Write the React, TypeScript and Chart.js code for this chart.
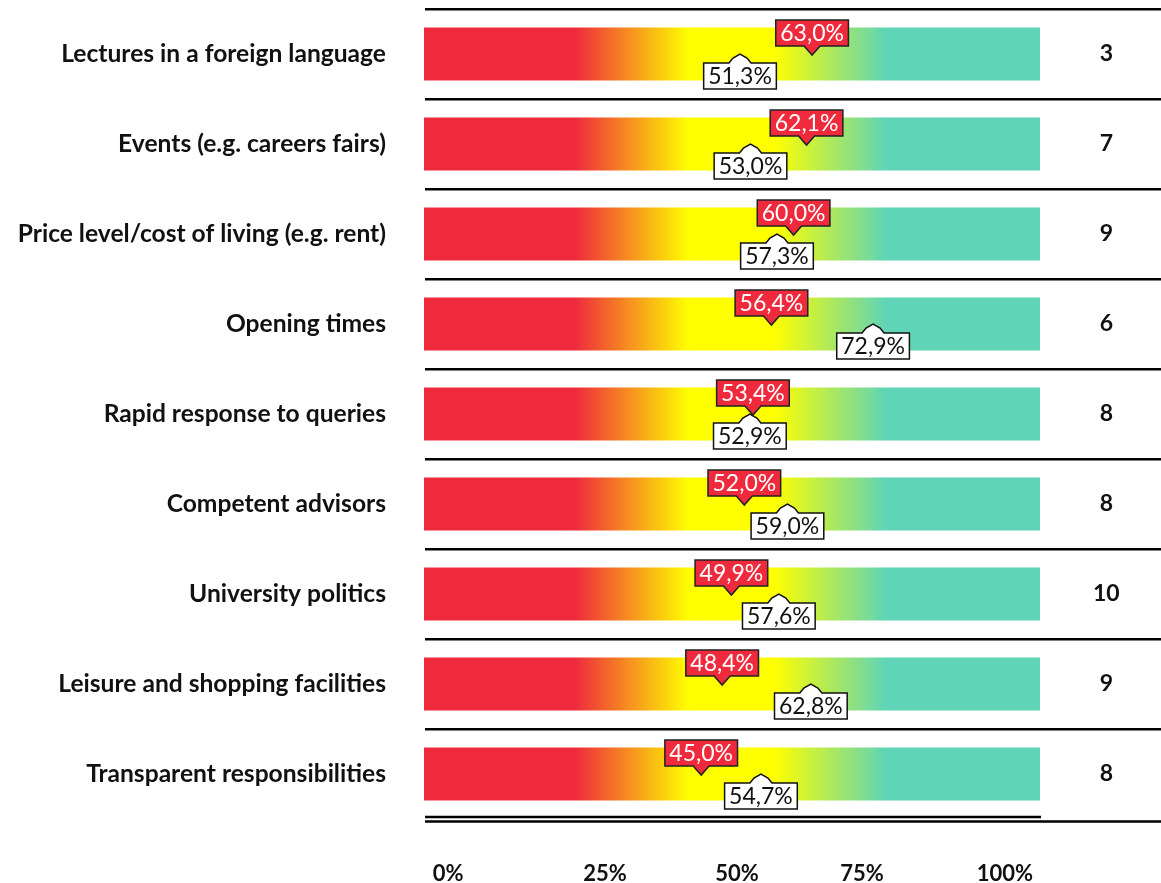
import React, { useEffect, useRef } from "react";
import { Chart, registerables } from "chart.js";

Chart.register(...registerables);

const categories = [
  "Lectures in a foreign language",
  "Events (e.g. careers fairs)",
  "Price level/cost of living (e.g. rent)",
  "Opening times",
  "Rapid response to queries",
  "Competent advisors",
  "University politics",
  "Leisure and shopping facilities",
  "Transparent responsibilities",
];
const barFull = [100, 100, 100, 100, 100, 100, 100, 100, 100];
const redValues = [63.0, 62.1, 60.0, 56.4, 53.4, 52.0, 49.9, 48.4, 45.0];
const whiteValues = [51.3, 53.0, 57.3, 72.9, 52.9, 59.0, 57.6, 62.8, 54.7];
const counts = [3, 7, 9, 6, 8, 8, 10, 9, 8];
const tickLabels = ["0%", "25%", "50%", "75%", "100%"];
const tickPositions = [3.9, 29.4, 50.8, 71.1, 94.3];

const FONT = "Lato, 'Open Sans', sans-serif";
const RED = "#EE2A3C";

const fmt = (v: number) => v.toFixed(1).replace(".", ",") + "%";

const markerPlugin = {
  id: "markers",
  afterDatasetsDraw(chart: any) {
    const { ctx, scales, chartArea } = chart;
    const x = scales.x;
    const y = scales.y;
    ctx.save();
    // separators
    ctx.strokeStyle = "#000";
    ctx.lineWidth = 2.5;
    const n = categories.length;
    const step = (chartArea.bottom - chartArea.top) / n;
    for (let i = 0; i < n; i++) {
      const yy = chartArea.top + i * step + 0.3;
      ctx.beginPath();
      ctx.moveTo(chartArea.left + 1, yy);
      ctx.lineTo(chart.width, yy);
      ctx.stroke();
    }
    ctx.beginPath();
    ctx.moveTo(chartArea.left + 1, chartArea.bottom - 2);
    ctx.lineTo(chartArea.right + 1, chartArea.bottom - 2);
    ctx.stroke();
    ctx.beginPath();
    ctx.moveTo(chartArea.left + 1, chartArea.bottom + 2.5);
    ctx.lineTo(chart.width, chartArea.bottom + 2.5);
    ctx.stroke();

    ctx.font = `23px ${FONT}`;
    ctx.textAlign = "center";
    ctx.textBaseline = "middle";
    ctx.lineWidth = 1.5;
    ctx.lineJoin = "miter";
    for (let i = 0; i < n; i++) {
      const cy = y.getPixelForValue(i);
      // white marker (below, arrow up)
      {
        const cx = x.getPixelForValue(whiteValues[i]);
        const t = fmt(whiteValues[i]);
        const w = ctx.measureText(t).width + 9;
        const l = cx - w / 2, r = cx + w / 2;
        const top = cy + 9, bot = cy + 35;
        ctx.beginPath();
        ctx.moveTo(l, top);
        ctx.lineTo(cx - 11, top);
        ctx.lineTo(cx - 7, cy + 4);
        ctx.lineTo(cx, cy);
        ctx.lineTo(cx + 7, cy + 4);
        ctx.lineTo(cx + 11, top);
        ctx.lineTo(r, top);
        ctx.lineTo(r, bot);
        ctx.lineTo(l, bot);
        ctx.closePath();
        ctx.fillStyle = "#fff";
        ctx.fill();
        ctx.strokeStyle = "#111";
        ctx.stroke();
        ctx.fillStyle = "#111";
        ctx.fillText(t, cx, (top + bot) / 2 + 1);
      }
      // red marker (above, arrow down)
      {
        const cx = x.getPixelForValue(redValues[i]);
        const t = fmt(redValues[i]);
        const w = ctx.measureText(t).width + 9;
        const l = cx - w / 2, r = cx + w / 2;
        const top = cy - 34, bot = cy - 8;
        ctx.beginPath();
        ctx.moveTo(l, top);
        ctx.lineTo(r, top);
        ctx.lineTo(r, bot);
        ctx.lineTo(cx + 8, bot);
        ctx.lineTo(cx, cy + 1);
        ctx.lineTo(cx - 8, bot);
        ctx.lineTo(l, bot);
        ctx.closePath();
        ctx.fillStyle = RED;
        ctx.fill();
        ctx.strokeStyle = "#222";
        ctx.stroke();
        ctx.fillStyle = "#fff";
        ctx.fillText(t, cx, (top + bot) / 2 + 1);
      }
    }
    ctx.restore();
  },
};

export default function App() {
  const ref = useRef<HTMLCanvasElement>(null);
  useEffect(() => {
    if (!ref.current) return;
    const chart = new Chart(ref.current, {
      type: "bar",
      data: {
        labels: categories,
        datasets: [
          {
            data: barFull,
            yAxisID: "y",
            barPercentage: 0.59,
            categoryPercentage: 1,
            borderWidth: 0,
            backgroundColor: (c: any) => {
              const ch = c.chart;
              const sx = ch.scales?.x;
              if (!ch.chartArea || !sx) return RED;
              const g = ch.ctx.createLinearGradient(
                sx.getPixelForValue(0),
                0,
                sx.getPixelForValue(100),
                0
              );
              g.addColorStop(0, RED);
              g.addColorStop(0.245, RED);
              g.addColorStop(0.43, "#FFFF00");
              g.addColorStop(0.568, "#FFFF00");
              g.addColorStop(0.75, "#5FD4B6");
              g.addColorStop(1, "#5FD4B6");
              return g;
            },
          },
        ],
      },
      options: {
        indexAxis: "y",
        responsive: false,
        animation: false,
        devicePixelRatio: 1,
        layout: { padding: { top: 9, left: 0, right: 0, bottom: 0 } },
        plugins: {
          legend: { display: false },
          tooltip: { enabled: false },
        },
        scales: {
          x: {
            type: "linear",
            min: 0,
            max: 100,
            grid: { display: false, drawTicks: false },
            border: { display: false },
            afterFit: (s: any) => {
              s.height = 64;
              s.paddingLeft = 0;
              s.paddingRight = 0;
            },
            afterBuildTicks: (s: any) => {
              s.ticks = tickPositions.map((v) => ({ value: v }));
            },
            ticks: {
              autoSkip: false,
              maxRotation: 0,
              padding: 42,
              color: "#111",
              font: { family: FONT, size: 22, weight: "bold" },
              callback: (_v: any, i: number) => tickLabels[i],
            },
          },
          y: {
            type: "category",
            position: "left",
            offset: true,
            grid: { display: false, drawTicks: false },
            border: { display: false },
            afterFit: (s: any) => {
              s.width = 424;
              s.paddingTop = 0;
              s.paddingBottom = 0;
            },
            ticks: {
              padding: 38,
              color: "#111",
              font: { family: FONT, size: 24.6, weight: "bold" },
            },
          },
          y2: {
            type: "category",
            position: "right",
            offset: true,
            labels: counts.map(String),
            grid: { display: false, drawTicks: false },
            border: { display: false },
            afterFit: (s: any) => {
              s.width = 121;
              s.paddingTop = 0;
              s.paddingBottom = 0;
            },
            ticks: {
              padding: 53,
              crossAlign: "center",
              color: "#111",
              font: { family: FONT, size: 23, weight: "bold" },
            },
          },
        },
      },
      plugins: [markerPlugin],
    } as any);
    return () => chart.destroy();
  }, []);
  return (
    <div style={{ position: "absolute", left: 0, top: 0, width: 1161, height: 883, background: "#fff" }}>
      <canvas ref={ref} width={1161} height={883} />
    </div>
  );
}
